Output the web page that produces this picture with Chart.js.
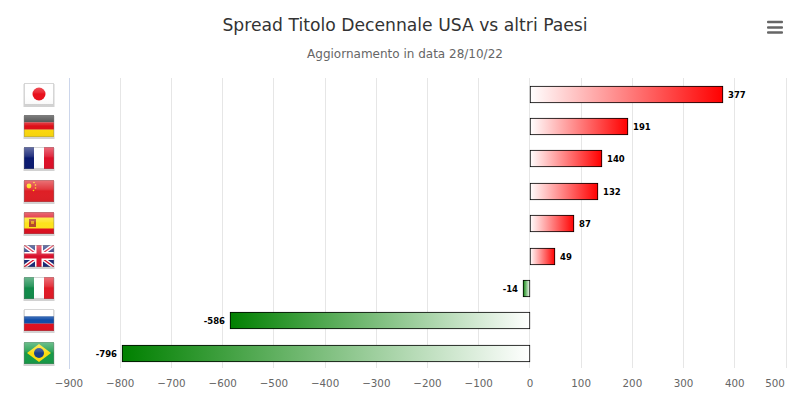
<!DOCTYPE html>
<html><head><meta charset="utf-8">
<style>html,body{margin:0;padding:0;background:#fff;overflow:hidden}canvas{display:block}</style>
<script src="https://cdn.jsdelivr.net/npm/chart.js@4"></script>
</head><body><canvas id="c" width="800" height="393"></canvas>
<script>
const categories = ['Giappone','Germania','Francia','Cina','Spagna','Regno Unito','Italia','Russia','Brasile'];
const flagCodes = ['jp','de','fr','cn','es','gb','it','ru','br'];
const spreadValues = [377,191,140,132,87,49,-14,-586,-796];
const titleText = 'Spread Titolo Decennale USA vs altri Paesi';
const subtitleText = 'Aggiornamento in data 28/10/22';
const FONT = '"DejaVu Sans"';

function rowPixel(ys,i){
  const p=ys.getPixelForValue(i);
  return Math.floor(p+(p-ys.getPixelForValue(0))*0.0053)+.5;
}
function barFill(ctx){
  const chart = ctx.chart, v = ctx.raw;
  if (v === undefined) return '#fff';
  const x = chart.scales.x;
  const x0 = x.getPixelForValue(0), x1 = x.getPixelForValue(v);
  if (!isFinite(x0) || !isFinite(x1)) return '#fff';
  const g = chart.ctx.createLinearGradient(x0,0,x1,0);
  g.addColorStop(0,'#ffffff');
  g.addColorStop(1, v>=0 ? '#ff0000' : '#008000');
  return g;
}
function bands(c,x,y,w,h,cols,vertical){
  cols.forEach((col,i)=>{c.fillStyle=col;
    if(vertical) c.fillRect(x+w*i/cols.length,y,w/cols.length,h);
    else c.fillRect(x,y+h*i/cols.length,w,h/cols.length);});
}
const painters = {
  jp(c,x,y,w,h){c.fillStyle='#fff';c.fillRect(x,y,w,h);c.fillStyle='#e8101c';c.beginPath();c.arc(x+w/2,y+h/2,6.5,0,7);c.fill();},
  de(c,x,y,w,h){bands(c,x,y,w,h,['#333','#dd0f18','#fbd80e']);},
  fr(c,x,y,w,h){bands(c,x,y,w,h,['#0a1a70','#fff','#dd1028'],true);},
  cn(c,x,y,w,h){c.fillStyle='#de1f26';c.fillRect(x,y,w,h);c.fillStyle='#ffde00';c.beginPath();c.arc(x+5,y+6,2.4,0,7);c.fill();
    [[10,2.5],[11.5,5],[11.5,8],[9.5,10.5]].forEach(p=>{c.beginPath();c.arc(x+p[0],y+p[1],.8,0,7);c.fill();});},
  es(c,x,y,w,h){c.fillStyle='#dd1020';c.fillRect(x,y,w,h);c.fillStyle='#fde31c';c.fillRect(x,y+h/4,w,h/2);c.fillStyle='#b5482a';c.fillRect(x+5,y+7,7,8);c.fillStyle='#e8a020';c.fillRect(x+7,y+9,3,3);},
  gb(c,x,y,w,h){c.fillStyle='#1a2a78';c.fillRect(x,y,w,h);c.save();c.beginPath();c.rect(x,y,w,h);c.clip();
    c.strokeStyle='#fff';c.lineWidth=4;c.beginPath();c.moveTo(x,y);c.lineTo(x+w,y+h);c.moveTo(x+w,y);c.lineTo(x,y+h);c.stroke();
    c.strokeStyle='#d8102c';c.lineWidth=1.3;c.stroke();
    c.fillStyle='#fff';c.fillRect(x+w/2-4,y,8,h);c.fillRect(x,y+h/2-4,w,8);
    c.fillStyle='#d8102c';c.fillRect(x+w/2-2.5,y,5,h);c.fillRect(x,y+h/2-2.5,w,5);c.restore();},
  it(c,x,y,w,h){bands(c,x,y,w,h,['#118a4a','#fff','#e01a26'],true);},
  ru(c,x,y,w,h){bands(c,x,y,w,h,['#fff','#0f4ca8','#dd1020']);},
  br(c,x,y,w,h){c.fillStyle='#179a48';c.fillRect(x,y,w,h);c.fillStyle='#fbdc10';c.beginPath();c.moveTo(x+w/2,y+2);c.lineTo(x+w-3,y+h/2);c.lineTo(x+w/2,y+h-2);c.lineTo(x+3,y+h/2);c.fill();
    c.fillStyle='#1a3f8a';c.beginPath();c.arc(x+w/2,y+h/2,5,0,7);c.fill();}
};
const flagsPlugin = {id:'flags',afterDraw(chart){
  const c=chart.ctx, ys=chart.scales.y, w=30, h=22;
  flagCodes.forEach((code,i)=>{
    const x=24, y=rowPixel(ys,i)-11.5;
    c.save();
    c.fillStyle='#d2d2d2';c.fillRect(x-.5,y+1,w+1,h+1);
    painters[code](c,x,y,w,h);
    const g=c.createLinearGradient(0,y,0,y+h);
    g.addColorStop(0,'rgba(255,255,255,.38)');g.addColorStop(.42,'rgba(255,255,255,.12)');g.addColorStop(.5,'rgba(255,255,255,0)');g.addColorStop(1,'rgba(0,0,0,.03)');
    c.fillStyle=g;c.fillRect(x,y,w,h);
    c.strokeStyle='rgba(120,120,120,.3)';c.lineWidth=1;c.strokeRect(x+.5,y+.5,w-1,h-1);
    c.restore();
  });
}};
const snapPlugin = {id:'snap',beforeDraw(chart){
  const c=chart.ctx;c.save();c.fillStyle='#fff';c.fillRect(0,0,chart.width,chart.height);c.restore();
},beforeDatasetsDraw(chart){
  chart.getDatasetMeta(0).data.forEach((el,i)=>{
    if(el._snapped) return;el._snapped=1;
    el.y=rowPixel(chart.scales.y,i);el.x=Math.round(el.x);
    el.base=Math.round(el.base)+(spreadValues[i]<0?1:0);
  });
}};
const labelsPlugin = {id:'barLabels',afterDatasetsDraw(chart){
  const c=chart.ctx, meta=chart.getDatasetMeta(0);
  c.save();c.font='bold 8.5px '+FONT;c.textBaseline='middle';
  meta.data.forEach((el,i)=>{
    const v=spreadValues[i], neg=v<0;
    c.textAlign=neg?'right':'left';
    const tx=el.x+(neg?-5:5), ty=el.y+1.5;
    c.fillStyle='#000';c.fillText(String(v),tx,ty);
  });
  c.restore();
  c.save();c.fillStyle='#666';
  [22,27.5,32.5].forEach(y=>{c.beginPath();c.roundRect(767,y-1.25,16,2.5,1);c.fill();});
  c.restore();
}};
const tickNudge = {id:'tickNudge',beforeDraw(chart){
  const s=chart.scales.x, items=s.getLabelItems(chart.chartArea);
  const last=items[items.length-1];
  if(last && !last._n){last._n=1;last.options.translation=[last.options.translation[0]-11,last.options.translation[1]];}
}};
const cv=document.getElementById('c');
cv.getContext('2d',{alpha:false});
new Chart(cv,{
  type:'bar',
  data:{labels:categories,datasets:[{data:spreadValues,backgroundColor:barFill,borderColor:'#000',borderWidth:1,borderSkipped:false,barThickness:17}]},
  plugins:[snapPlugin,flagsPlugin,labelsPlugin,tickNudge],
  options:{
    indexAxis:'y',responsive:false,animation:false,devicePixelRatio:1,
    layout:{padding:{left:24,right:14,top:16,bottom:0}},
    plugins:{
      legend:{display:false},tooltip:{enabled:false},
      title:{display:true,text:titleText,color:'#333',font:{family:FONT,size:17.2,weight:'normal'},padding:{top:0,bottom:11}},
      subtitle:{display:true,text:subtitleText,color:'#666',font:{family:FONT,size:12,weight:'normal'},padding:{top:0,bottom:16}}
    },
    scales:{
      x:{type:'linear',min:-900,max:500,
        ticks:{stepSize:100,color:'#666',font:{family:FONT,size:10.3},padding:10,maxRotation:0,autoSkip:false,
          callback:v=>String(v).replace('-','\u2212')},
        grid:{color:'#e6e6e6',lineWidth:1,drawTicks:false},border:{display:false},
        afterFit(s){s.height=25;s.paddingLeft=0;s.paddingRight=0;}},
      y:{type:'category',
        ticks:{display:false},
        grid:{display:false},border:{display:true,color:'#ccd6eb',width:1},
        afterFit(s){s.width=45;}}
    }
  }
});
</script></body></html>
